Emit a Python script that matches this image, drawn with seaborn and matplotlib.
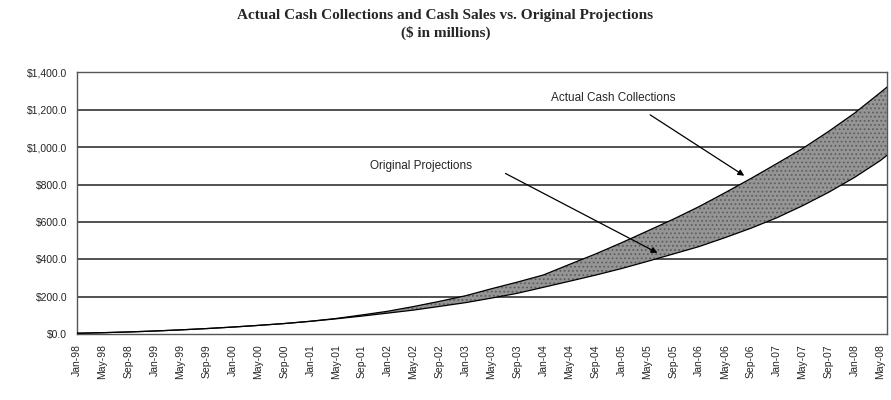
import pandas as pd
import matplotlib
matplotlib.use("Agg")
import matplotlib.pyplot as plt
import matplotlib.dates as mdates
import seaborn as sns

# data, every 4 months plus the last month
months = ["Jan-98", "May-98", "Sep-98", "Jan-99", "May-99", "Sep-99", "Jan-00", "May-00",
          "Sep-00", "Jan-01", "May-01", "Sep-01", "Jan-02", "May-02", "Sep-02", "Jan-03",
          "May-03", "Sep-03", "Jan-04", "May-04", "Sep-04", "Jan-05", "May-05", "Sep-05",
          "Jan-06", "May-06", "Sep-06", "Jan-07", "May-07", "Sep-07", "Jan-08", "May-08",
          "Jun-08"]
actual = [4, 7, 11, 16, 22, 29, 37, 46, 56, 68, 83, 102, 122, 147, 175, 205,
          242, 278, 316, 372, 428, 488, 550, 614, 682, 755, 832, 912, 992, 1084,
          1182, 1292, 1321]
projected = [4, 7, 11, 16, 22, 29, 37, 46, 56, 68, 81, 96, 112, 128, 148, 168,
             192, 218, 250, 282, 315, 350, 388, 428, 468, 515, 566, 622, 686, 758,
             838, 928, 956]
tick_labels = months[:-1]
y_ticks = [0, 200, 400, 600, 800, 1000, 1200, 1400]

df = pd.DataFrame({
    "date": pd.to_datetime(months, format="%b-%y"),
    "actual": actual,
    "projected": projected,
})

sns.set_style("white")
plt.rcParams["font.family"] = ["Liberation Sans", "DejaVu Sans"]
plt.rcParams["hatch.linewidth"] = 0.8

fig = plt.figure(figsize=(8.91, 4), dpi=100)
ax = fig.add_axes([0.0864, 0.165, 0.909, 0.654])

# horizontal grid lines
for v in y_ticks[1:-1]:
    ax.axhline(v, color="#222222", lw=1.1, zorder=1)

ax.fill_between(df["date"], df["projected"], df["actual"], facecolor="#959595",
                edgecolor="#5e5e5e", linewidth=0, hatch="....", zorder=2)
sns.lineplot(data=df, x="date", y="actual", color="black", lw=0.9, ax=ax, zorder=3)
sns.lineplot(data=df, x="date", y="projected", color="black", lw=0.9, ax=ax, zorder=3)

ax.set_xlim(df["date"].iloc[0], df["date"].iloc[-1])
ax.set_ylim(0, 1400)
ax.set_yticks(y_ticks)
ax.set_yticklabels(["${:,.1f}".format(v) for v in y_ticks], fontsize=7.5)
ax.set_xticks(pd.to_datetime(tick_labels, format="%b-%y"))
ax.set_xticklabels(tick_labels, rotation=90, fontsize=7.5)
ax.xaxis.set_minor_locator(mdates.MonthLocator())
ax.tick_params(axis="x", which="major", direction="out", length=4, width=0.8, color="#333333")
ax.tick_params(axis="x", which="minor", direction="out", length=2, width=0.6, color="#333333")
ax.tick_params(axis="y", direction="out", length=3, width=0.8, color="#333333", pad=4)
ax.set_xlabel("")
ax.set_ylabel("")
for s in ax.spines.values():
    s.set_visible(True)
    s.set_color("#555555")
    s.set_linewidth(1.0)

# annotations
ax.annotate("Actual Cash Collections",
            xy=(pd.Timestamp("2006-08-12"), 839), xytext=(pd.Timestamp("2004-11-25"), 1262),
            ha="center", va="center", fontsize=8.5, zorder=4)
ax.annotate("", xy=(pd.Timestamp("2006-08-12"), 839), xytext=(pd.Timestamp("2005-05-05"), 1181),
            arrowprops=dict(arrowstyle="-|>", color="black", lw=0.9, mutation_scale=9), zorder=4)
ax.annotate("Original Projections",
            xy=(pd.Timestamp("2005-07-01"), 427), xytext=(pd.Timestamp("2002-06-05"), 898),
            ha="center", va="center", fontsize=8.5, zorder=4)
ax.annotate("", xy=(pd.Timestamp("2005-07-01"), 427), xytext=(pd.Timestamp("2003-06-25"), 866),
            arrowprops=dict(arrowstyle="-|>", color="black", lw=0.9, mutation_scale=9), zorder=4)

fig.text(0.5, 0.962, "Actual Cash Collections and Cash Sales vs. Original Projections",
         ha="center", va="center", fontsize=11, fontweight="bold", family="Liberation Serif")
fig.text(0.5, 0.918, "($ in millions)",
         ha="center", va="center", fontsize=11, fontweight="bold", family="Liberation Serif")

fig.savefig("out.png", dpi=100)
